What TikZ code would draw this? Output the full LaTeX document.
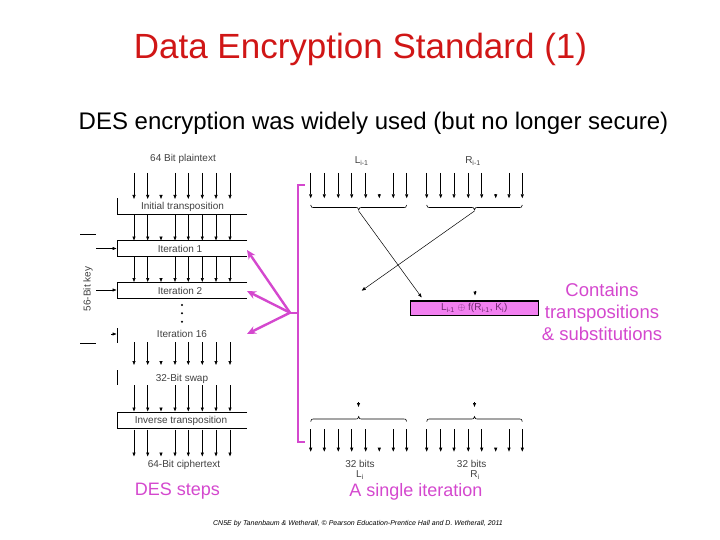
\documentclass[tikz,border=0pt]{standalone}
\usepackage{fontspec}
\setmainfont{Liberation Sans}
\usetikzlibrary{arrows.meta}
\definecolor{titlered}{RGB}{208,22,22}
\definecolor{pinkc}{RGB}{212,72,206}
\definecolor{pinkfill}{RGB}{242,128,240}
\definecolor{boxtext}{RGB}{110,40,110}
% left column bus: #1 start y, #2 end y
\newcommand\busleft[2]{%
  \foreach \xx in {134,147.7,175,188.3,202.3,216,230} {\draw[bus] (\xx,#1) -- (\xx,#2);}%
  \draw[bus] (161,#2-4) -- (161,#2);}
% right buses
\newcommand\busra[2]{%
  \foreach \xx in {310.7,324.3,338.3,351.7,365.7,393.3,406.7} {\draw[bus] (\xx,#1) -- (\xx,#2);}%
  \draw[bus] (379.3,#2-4) -- (379.3,#2);}
\newcommand\busrb[2]{%
  \foreach \xx in {426.7,440.7,454,468.3,481.7,509,522.3} {\draw[bus] (\xx,#1) -- (\xx,#2);}%
  \draw[bus] (495.7,#2-4) -- (495.7,#2);}
% #1 left x, #2 right x, #3 end y, #4 direction (+1 tip down, -1 tip up)
\newcommand\mybrace[4]{%
  \draw[line width=0.6pt] (#1,#3) .. controls (#1,#3+2.5*#4) and (#1+1,#3+2.5*#4) .. (#1+5,#3+2.5*#4)
    -- ({(#1+#2)/2-5},#3+2.5*#4) .. controls ({(#1+#2)/2-1},#3+2.5*#4) and ({(#1+#2)/2},#3+2.5*#4) .. ({(#1+#2)/2},#3+5*#4)
    .. controls ({(#1+#2)/2},#3+2.5*#4) and ({(#1+#2)/2+1},#3+2.5*#4) .. ({(#1+#2)/2+5},#3+2.5*#4)
    -- (#2-5,#3+2.5*#4) .. controls (#2-1,#3+2.5*#4) and (#2,#3+2.5*#4) .. (#2,#3);}
\begin{document}
\begin{tikzpicture}[x=1pt,y=-1pt,
  lbl/.style={font=\fontsize{10}{12}\selectfont, text=black!75, inner sep=0pt, anchor=base},
  bus/.style={line width=0.7pt, -{Triangle[length=4pt,width=3pt]}},
  boxln/.style={line width=0.8pt},
  pinkln/.style={draw=pinkc, line width=2.4pt},
  pinkarr/.style={draw=pinkc, line width=2.4pt, -{Stealth[length=9pt,width=8pt]}},
  pinktxt/.style={font=\fontsize{18}{21}\selectfont, text=pinkc, inner sep=0pt, anchor=base},
  thinarr/.style={line width=0.5pt, -{Triangle[length=4pt,width=3pt]}}]
\useasboundingbox (0,0) rectangle (720,540);

% titles
\node[font=\fontsize{35}{40}\selectfont, text=titlered, inner sep=0pt, anchor=base] (title) at (360.5,59) {Data Encryption Standard (1)};
\node[font=\fontsize{24}{28}\selectfont, inner sep=0pt, anchor=base] (sub) at (373.5,129.5) {DES encryption was widely used (but no longer secure)};

% ---------- left: DES steps ----------
\node[lbl] (pt) at (183,161.5) {64 Bit plaintext};
\busleft{173}{199}
\draw[boxln] (117,198.3) -- (117,214.3) -- (247,214.3);
\node[lbl] (itp) at (182.5,209.5) {Initial transposition};
\busleft{214.3}{240.5}
\draw[boxln] (247,240.7) -- (117,240.7) -- (117,256.3) -- (247,256.3);
\node[lbl] (it1) at (180,252) {Iteration 1};
\busleft{256.3}{282}
\draw[boxln] (247,282.3) -- (117,282.3) -- (117,298) -- (247,298);
\node[lbl] (it2) at (180,294.5) {Iteration 2};
\foreach \yy in {305,313.3,321.7}{\fill (182,\yy) circle (1.1pt);}
\draw[boxln] (117,328) -- (117,343);
\node[lbl] (it16) at (182,337) {Iteration 16};
\busleft{342}{365}
\draw[boxln] (117,370) -- (117,385);
\node[lbl] (swap) at (182,381.5) {32-Bit swap};
\busleft{385}{411.5}
\draw[boxln] (247,412) -- (117,412) -- (117,428.3) -- (247,428.3);
\node[lbl] (inv) at (181,423.5) {Inverse transposition};
\busleft{429.5}{456.5}
\node[lbl] (ct) at (184,467) {64-Bit ciphertext};

% key
\draw[boxln] (80,234.3) -- (95.7,234.3);
\draw[boxln] (80,343.3) -- (95.7,343.3);
\draw[thinarr] (96,248.5) -- (116.5,248.5);
\draw[thinarr] (96,290) -- (116.5,290);
\draw[thinarr] (111,334) -- (116.5,334);
\node[font=\fontsize{10}{12}\selectfont, text=black!75, rotate=90, inner sep=0pt] (key) at (88,289) {56-Bit key};

% ---------- right: single iteration ----------
\node[lbl] (lim) at (361.7,163.5) {L\textsubscript{i-1}};
\node[lbl] (rim) at (473,163.5) {R\textsubscript{i-1}};
\busra{173}{198.3}
\busrb{173}{198.3}
\mybrace{310.7}{406.7}{205}{1}
\mybrace{426.7}{522.3}{205}{1}
\coordinate (lbt) at (358.7,211);
\coordinate (rbt) at (474.5,211);

\node[draw=black, line width=1.4pt, fill=pinkfill, minimum width=128pt, minimum height=14.7pt, inner sep=0pt,
      font=\fontsize{10}{12}\selectfont, text=boxtext] (fbox) at (474.2,308.3)
      {L\textsubscript{i-1} $\oplus$ f(R\textsubscript{i-1}, K\textsubscript{i})};
\coordinate (xa) at (421.7,297.5);
\coordinate (xb) at (361.7,290.7);
\draw[thinarr] (lbt) -- (xa);
\draw[thinarr] (rbt) -- (xb);
\draw[bus] (475,290.5) -- (475,295.5);

\draw[bus] (358.5,402) -- (358.5,407);
\draw[bus] (474.5,402) -- (474.5,407);
\mybrace{310.7}{406.7}{421.5}{-1}
\mybrace{426.7}{522.3}{421.5}{-1}
\busra{429.3}{451.7}
\busrb{429.3}{451.7}
\node[lbl] (b1) at (360,467) {32 bits};
\node[lbl] (b2) at (471.7,467) {32 bits};
\node[lbl] (li) at (360,477.5) {L\textsubscript{i}};
\node[lbl] (ri) at (475,477.5) {R\textsubscript{i}};

% pink bracket and arrows
\draw[pinkln] (304.5,185) -- (298,185) -- (298,441.7) -- (305,441.7);
\coordinate (hub) at (290,312.7);
\draw[pinkln] (298,312.7) -- (hub);
\coordinate (e1) at (247,250);
\coordinate (e2) at (247,291);
\coordinate (e3) at (247,334);
\draw[pinkarr] (hub) -- (e1);
\draw[pinkarr] (hub) -- (e2);
\draw[pinkarr] (hub) -- (e3);

% pink labels
\node[pinktxt] (steps) at (177.5,495) {DES steps};
\node[pinktxt] (single) at (416,496) {A single iteration};
\node[pinktxt, font=\fontsize{18.5}{21}\selectfont] (c1) at (602,296.5) {Contains};
\node[pinktxt, font=\fontsize{18.5}{21}\selectfont] (c2) at (602,318.5) {transpositions};
\node[pinktxt, font=\fontsize{18.5}{21}\selectfont] (c3) at (602,340) {\&{} substitutions};

% footer
\node[font=\fontsize{7}{8}\selectfont\itshape, inner sep=0pt, anchor=base] (foot) at (358,525.5)
  {CN5E by Tanenbaum \& Wetherall, © Pearson Education-Prentice Hall and D. Wetherall, 2011};
\end{tikzpicture}
\end{document}
